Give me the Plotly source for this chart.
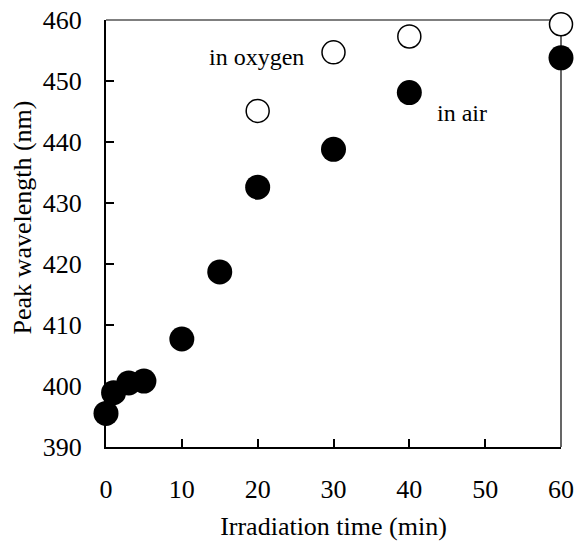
import plotly.graph_objects as go

# Data
time_air = [0, 1, 3, 5, 10, 15, 20, 30, 40, 60]
peak_air = [395.5, 398.9, 400.5, 400.8, 407.7, 418.7, 432.6, 438.8, 448.1, 453.8]

time_oxygen = [20, 30, 40, 60]
peak_oxygen = [445.1, 454.7, 457.3, 459.3]

x_ticks = [0, 10, 20, 30, 40, 50, 60]
y_ticks = [390, 400, 410, 420, 430, 440, 450, 460]

FONT = "Liberation Serif, Times New Roman, DejaVu Serif, serif"

fig = go.Figure()
fig.add_trace(go.Scatter(
    x=time_oxygen, y=peak_oxygen, mode="markers", name="in oxygen",
    marker=dict(size=23, color="white", line=dict(color="black", width=1.5)),
    cliponaxis=False,
))
fig.add_trace(go.Scatter(
    x=time_air, y=peak_air, mode="markers", name="in air",
    marker=dict(size=25, color="black", line=dict(color="black", width=0)),
    cliponaxis=False,
))

fig.update_layout(
    width=579, height=546,
    margin=dict(l=105.5, r=18, t=20, b=99.3, autoexpand=False),
    paper_bgcolor="white", plot_bgcolor="white",
    showlegend=False,
    font=dict(family=FONT, color="black"),
    xaxis=dict(
        range=[0, 60], tickvals=x_ticks, ticks="inside", ticklen=8, tickwidth=1.5,
        tickcolor="black", showline=True, linecolor="black", linewidth=2,
        showgrid=False, zeroline=False, tickfont=dict(size=26, family=FONT),
        ticklabelstandoff=18,
        title=dict(text="Irradiation time (min)", font=dict(size=26, family=FONT), standoff=14),
    ),
    yaxis=dict(
        range=[390, 460], tickvals=y_ticks, ticks="inside", ticklen=8, tickwidth=1.5,
        tickcolor="black", showline=True, linecolor="black", linewidth=2,
        showgrid=False, zeroline=False, tickfont=dict(size=26, family=FONT),
        ticklabelstandoff=17,
    ),
    shapes=[
        dict(type="line", xref="paper", yref="paper", x0=0, x1=1, y0=1, y1=1,
             line=dict(color="black", width=1.2), layer="below"),
        dict(type="line", xref="paper", yref="paper", x0=1, x1=1, y0=0, y1=1,
             line=dict(color="black", width=1.2), layer="below"),
    ],
    annotations=[
        dict(text="in oxygen", x=19.8, y=453.9, xref="x", yref="y", showarrow=False,
             xanchor="center", yanchor="middle", font=dict(size=24, family=FONT)),
        dict(text="in air", x=47, y=444.7, xref="x", yref="y", showarrow=False,
             xanchor="center", yanchor="middle", font=dict(size=24, family=FONT)),
        dict(text="Peak wavelength (nm)", x=-0.183, y=0.537, xref="paper", yref="paper",
             xanchor="center", yanchor="middle",
             textangle=-90, showarrow=False, font=dict(size=26, family=FONT)),
    ],
)

fig.write_html("out.html", config={"displayModeBar": False},
               post_script="document.body.style.margin='0px';")
